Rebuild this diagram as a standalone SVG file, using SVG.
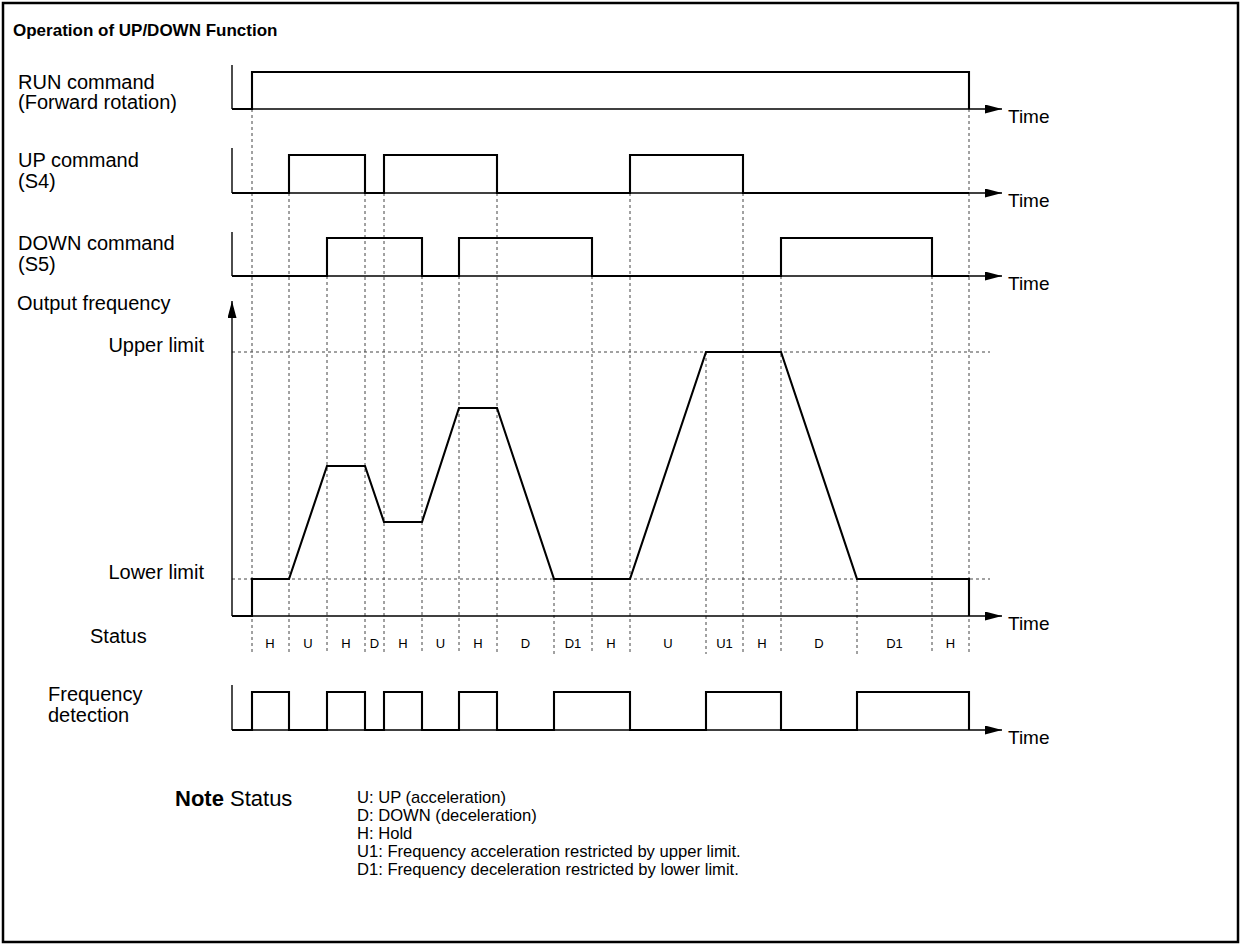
<svg xmlns="http://www.w3.org/2000/svg" width="1243" height="947" viewBox="0 0 1243 947">
<style>
text{font-family:"Liberation Sans",Arial,Helvetica,sans-serif;fill:#000}
.lbl{font-size:20px}
.tm{font-size:19px}
.ttl{font-size:17px;font-weight:bold}
.st{font-size:13px;text-anchor:middle}
.note{font-size:16.6px}
.axis{stroke:#000;stroke-width:1.4;fill:none}
.ax{stroke:#000;stroke-width:1.4;fill:none;marker-end:url(#arr)}
.sig{stroke:#000;stroke-width:2.1;fill:none;stroke-linejoin:miter}
.dash{stroke:#444;stroke-width:1;stroke-dasharray:3,3;fill:none}
</style>
<defs>
<marker id="arr" markerUnits="userSpaceOnUse" markerWidth="17" markerHeight="9" refX="17" refY="4.5" orient="auto">
<path d="M0,0 L17,4.5 L0,9 z" fill="#000"/>
</marker>
</defs>
<rect x="3" y="3" width="1235" height="939" fill="#fff" stroke="#000" stroke-width="2.5"/>
<g id="title"><text class="ttl" x="13" y="36">Operation of UP/DOWN Function</text></g>

<g id="guides">
<line class="dash" x1="232" y1="352" x2="990" y2="352"/>
<line class="dash" x1="232" y1="579" x2="990" y2="579"/>
<line class="dash" x1="252" y1="109" x2="252" y2="654"/>
<line class="dash" x1="289" y1="193" x2="289" y2="654"/>
<line class="dash" x1="327" y1="276" x2="327" y2="654"/>
<line class="dash" x1="365" y1="193" x2="365" y2="654"/>
<line class="dash" x1="384" y1="193" x2="384" y2="654"/>
<line class="dash" x1="422" y1="276" x2="422" y2="654"/>
<line class="dash" x1="459" y1="276" x2="459" y2="654"/>
<line class="dash" x1="497" y1="193" x2="497" y2="654"/>
<line class="dash" x1="554" y1="579" x2="554" y2="654"/>
<line class="dash" x1="592" y1="276" x2="592" y2="654"/>
<line class="dash" x1="630" y1="193" x2="630" y2="654"/>
<line class="dash" x1="706" y1="352" x2="706" y2="654"/>
<line class="dash" x1="743" y1="193" x2="743" y2="654"/>
<line class="dash" x1="781" y1="276" x2="781" y2="654"/>
<line class="dash" x1="857" y1="579" x2="857" y2="654"/>
<line class="dash" x1="932" y1="276" x2="932" y2="654"/>
<line class="dash" x1="969" y1="109" x2="969" y2="654"/>
</g>

<g id="connectors">
<polyline class="axis" points="232,65 232,109"/>
<line class="ax" x1="232" y1="109" x2="1002" y2="109"/>
<polyline class="axis" points="232,148 232,193"/>
<line class="ax" x1="232" y1="193" x2="1002" y2="193"/>
<polyline class="axis" points="232,232 232,276"/>
<line class="ax" x1="232" y1="276" x2="1002" y2="276"/>
<line class="ax" x1="232" y1="616" x2="232" y2="301"/>
<line class="ax" x1="232" y1="616" x2="1002" y2="616"/>
<polyline class="axis" points="232,685 232,730"/>
<line class="ax" x1="232" y1="730" x2="1002" y2="730"/>
</g>

<g id="run-signal"><path class="sig" d="M232,109 H252 V72 H969 V109"/></g>
<g id="up-signal"><path class="sig" d="M232,193 H289 V155 H365 V193 H384 V155 H497 V193 H630 V155 H743 V193 H969"/></g>
<g id="down-signal"><path class="sig" d="M232,276 H327 V238 H422 V276 H459 V238 H592 V276 H781 V238 H932 V276 H969"/></g>
<g id="freq-signal"><path class="sig" d="M232,616 H252 V579 H289 L327,466 H365 L384,522 H422 L459,408 H497 L554,579 H630 L706,352 H781 L857,579 H969 V616"/></g>
<g id="det-signal"><path class="sig" d="M232,730 H252 V692 H289 V730 H327 V692 H365 V730 H384 V692 H422 V730 H459 V692 H497 V730 H554 V692 H630 V730 H706 V692 H781 V730 H857 V692 H969 V730"/></g>

<g id="labels">
<text class="lbl" x="18" y="89">RUN command</text>
<text class="lbl" x="18" y="109">(Forward rotation)</text>
<text class="lbl" x="18" y="167">UP command</text>
<text class="lbl" x="18" y="188">(S4)</text>
<text class="lbl" x="18" y="250">DOWN command</text>
<text class="lbl" x="18" y="271">(S5)</text>
<text class="lbl" x="17" y="310">Output frequency</text>
<text class="lbl" x="204" y="352" text-anchor="end">Upper limit</text>
<text class="lbl" x="204" y="579" text-anchor="end">Lower limit</text>
<text class="lbl" x="90" y="643">Status</text>
<text class="lbl" x="48" y="701">Frequency</text>
<text class="lbl" x="48" y="722">detection</text>
<text class="tm" x="1008" y="123">Time</text>
<text class="tm" x="1008" y="207">Time</text>
<text class="tm" x="1008" y="290">Time</text>
<text class="tm" x="1008" y="630">Time</text>
<text class="tm" x="1008" y="744">Time</text>
</g>

<g id="status">
<text class="st" x="270" y="648">H</text>
<text class="st" x="308" y="648">U</text>
<text class="st" x="346" y="648">H</text>
<text class="st" x="374.5" y="648">D</text>
<text class="st" x="403" y="648">H</text>
<text class="st" x="440.5" y="648">U</text>
<text class="st" x="478" y="648">H</text>
<text class="st" x="525.5" y="648">D</text>
<text class="st" x="573" y="648">D1</text>
<text class="st" x="611" y="648">H</text>
<text class="st" x="668" y="648">U</text>
<text class="st" x="724.5" y="648">U1</text>
<text class="st" x="762" y="648">H</text>
<text class="st" x="819" y="648">D</text>
<text class="st" x="894.5" y="648">D1</text>
<text class="st" x="950.5" y="648">H</text>
</g>

<g id="note">
<text x="175" y="806" style="font-size:22px;font-weight:bold">Note</text>
<text x="230" y="806" style="font-size:22px">Status</text>
<text class="note" x="357" y="803">U: UP (acceleration)</text>
<text class="note" x="357" y="821">D: DOWN (deceleration)</text>
<text class="note" x="357" y="839">H: Hold</text>
<text class="note" x="357" y="857">U1: Frequency acceleration restricted by upper limit.</text>
<text class="note" x="357" y="875">D1: Frequency deceleration restricted by lower limit.</text>
</g>
</svg>
